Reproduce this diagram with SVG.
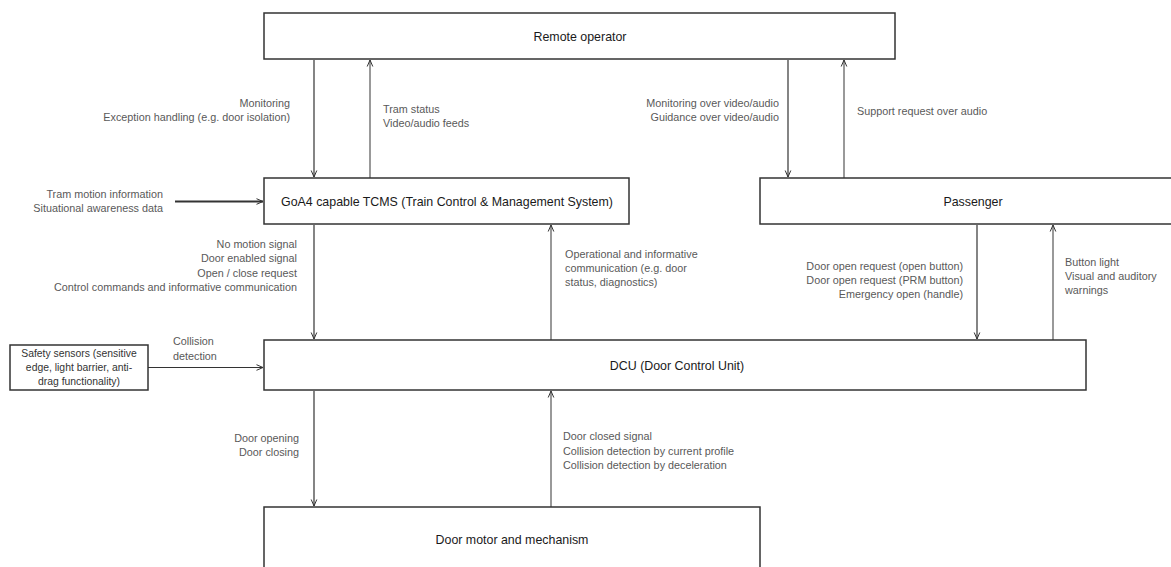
<svg xmlns="http://www.w3.org/2000/svg" width="1171" height="567" viewBox="0 0 1171 567">
<defs>
<marker id="ah" viewBox="0 0 8 8" refX="7.5" refY="4" markerWidth="8" markerHeight="8" markerUnits="userSpaceOnUse" orient="auto">
<path d="M1,1.2 L7.5,4 L1,6.8" fill="none" stroke="#333" stroke-width="1"/>
</marker>
<style>
.box{fill:#fff;stroke:#333;stroke-width:1.5}
.node{font-family:"Liberation Sans",Arial,sans-serif;font-size:12.4px;fill:#1a1a1a}
.lbl{font-family:"Liberation Sans",Arial,sans-serif;font-size:10.8px;fill:#595959}
.ss{font-family:"Liberation Sans",Arial,sans-serif;font-size:10.4px;fill:#333}
.c{fill:none;stroke:#333;stroke-width:1.2;marker-end:url(#ah)}
.cu{fill:none;stroke:#555;stroke-width:1.2;marker-end:url(#ah)}
</style>
</defs>
<rect width="1171" height="567" fill="#fff"/>

<g id="connectors">
<line class="c" x1="314" y1="60" x2="314" y2="177"/>
<line class="cu" x1="370" y1="178" x2="370" y2="60"/>
<line class="c" x1="788" y1="60" x2="788" y2="177"/>
<line class="cu" x1="844" y1="178" x2="844" y2="60"/>
<line class="c" x1="175" y1="201.5" x2="263" y2="201.5" style="stroke-width:2"/>
<line class="c" x1="314" y1="225" x2="314" y2="339"/>
<line class="cu" x1="551" y1="340" x2="551" y2="225"/>
<line class="c" x1="977" y1="225" x2="977" y2="339"/>
<line class="cu" x1="1053" y1="340" x2="1053" y2="225"/>
<line class="c" x1="148" y1="367.5" x2="263" y2="367.5"/>
<line class="c" x1="314" y1="391" x2="314" y2="506"/>
<line class="cu" x1="551" y1="507" x2="551" y2="391"/>
</g>

<g id="remote-operator">
<rect class="box" x="264" y="13" width="631" height="46"/>
<text class="node" x="580" y="41" text-anchor="middle">Remote operator</text>
</g>

<g id="tcms">
<rect class="box" x="264" y="178" width="365" height="46"/>
<text class="node" x="447" y="206" text-anchor="middle">GoA4 capable TCMS (Train Control &amp; Management System)</text>
</g>

<g id="passenger">
<rect class="box" x="760" y="178" width="420" height="46"/>
<text class="node" x="973" y="206" text-anchor="middle">Passenger</text>
</g>

<g id="dcu">
<rect class="box" x="264" y="340" width="822" height="50"/>
<text class="node" x="677" y="370" text-anchor="middle">DCU (Door Control Unit)</text>
</g>

<g id="safety-sensors">
<rect class="box" x="10" y="345" width="138" height="45"/>
<text class="ss" x="79" y="357" text-anchor="middle">Safety sensors (sensitive</text>
<text class="ss" x="79" y="371" text-anchor="middle">edge, light barrier, anti-</text>
<text class="ss" x="79" y="385" text-anchor="middle">drag functionality)</text>
</g>

<g id="door-motor">
<rect class="box" x="264" y="507" width="496" height="80"/>
<text class="node" x="512" y="544" text-anchor="middle">Door motor and mechanism</text>
</g>

<g id="labels">
<text class="lbl" x="290" y="107" text-anchor="end">Monitoring</text>
<text class="lbl" x="290" y="121" text-anchor="end">Exception handling (e.g. door isolation)</text>
<text class="lbl" x="383" y="113">Tram status</text>
<text class="lbl" x="383" y="127">Video/audio feeds</text>
<text class="lbl" x="779" y="107" text-anchor="end">Monitoring over video/audio</text>
<text class="lbl" x="779" y="121" text-anchor="end">Guidance over video/audio</text>
<text class="lbl" x="857" y="115">Support request over audio</text>
<text class="lbl" x="163" y="198" text-anchor="end">Tram motion information</text>
<text class="lbl" x="163" y="212" text-anchor="end">Situational awareness data</text>
<text class="lbl" x="297" y="248" text-anchor="end">No motion signal</text>
<text class="lbl" x="297" y="262" text-anchor="end">Door enabled signal</text>
<text class="lbl" x="297" y="277" text-anchor="end">Open / close request</text>
<text class="lbl" x="297" y="291" text-anchor="end">Control commands and informative communication</text>
<text class="lbl" x="565" y="258">Operational and informative</text>
<text class="lbl" x="565" y="272">communication (e.g. door</text>
<text class="lbl" x="565" y="286">status, diagnostics)</text>
<text class="lbl" x="963" y="270" text-anchor="end">Door open request (open button)</text>
<text class="lbl" x="963" y="284" text-anchor="end">Door open request (PRM button)</text>
<text class="lbl" x="963" y="298" text-anchor="end">Emergency open (handle)</text>
<text class="lbl" x="1065" y="266">Button light</text>
<text class="lbl" x="1065" y="280">Visual and auditory</text>
<text class="lbl" x="1065" y="294">warnings</text>
<text class="lbl" x="173" y="345">Collision</text>
<text class="lbl" x="173" y="360">detection</text>
<text class="lbl" x="299" y="442" text-anchor="end">Door opening</text>
<text class="lbl" x="299" y="456" text-anchor="end">Door closing</text>
<text class="lbl" x="563" y="440">Door closed signal</text>
<text class="lbl" x="563" y="455">Collision detection by current profile</text>
<text class="lbl" x="563" y="469">Collision detection by deceleration</text>
</g>
</svg>
